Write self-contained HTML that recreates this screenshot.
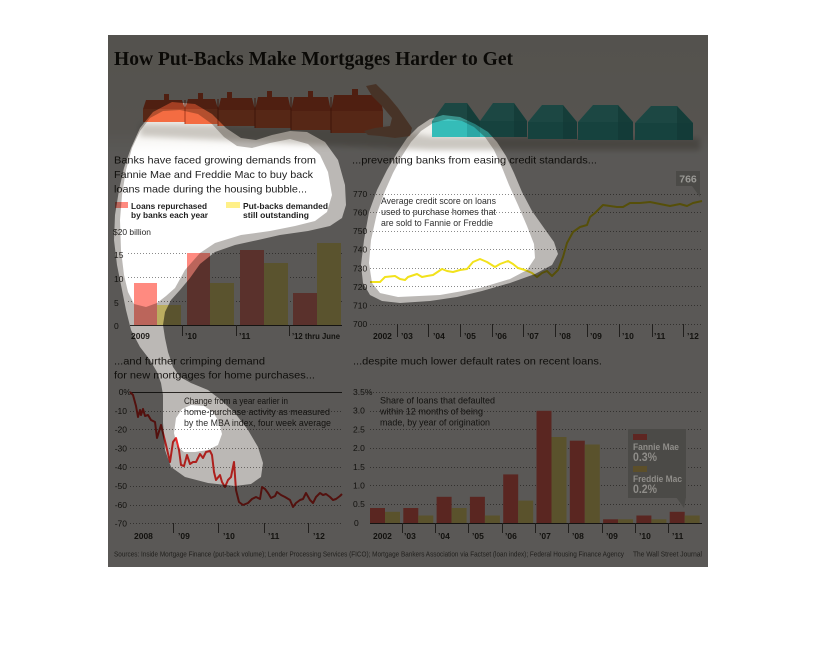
<!DOCTYPE html>
<html><head><meta charset="utf-8">
<style>
html,body{margin:0;padding:0;background:#fff}
svg{display:block}
.t{font-family:"Liberation Sans",sans-serif;fill:#1e1e1e}
.b{font-weight:bold}
.s{font-family:"Liberation Serif",serif;font-weight:bold;fill:#141414}
.ax{font-family:"Liberation Sans",sans-serif;font-size:8.5px;fill:#2a2a2a}
.xl{font-family:"Liberation Sans",sans-serif;font-size:8.5px;font-weight:bold;fill:#2a2a2a}
.an{font-family:"Liberation Sans",sans-serif;font-size:9.5px;fill:#2e2e2e}
.g{stroke:#8a8a8a;stroke-width:1;stroke-dasharray:1 2;fill:none}
.tk{stroke:#555;stroke-width:1}
</style></head><body>
<svg width="816" height="662" viewBox="0 0 816 662" xmlns="http://www.w3.org/2000/svg">
<defs>
<linearGradient id="pg" x1="0" y1="0" x2="0" y2="1">
<stop offset="0" stop-color="#efede8"/>
<stop offset="0.8" stop-color="#f2f0ec"/>
<stop offset="1" stop-color="#ffffff"/>
</linearGradient>
<filter id="bl" x="-10%" y="-50%" width="120%" height="200%"><feGaussianBlur stdDeviation="3"/></filter>
</defs>
<rect width="816" height="662" fill="#fff"/>
<rect x="108" y="35" width="600" height="532" fill="#fff"/>
<!-- photo strip -->
<rect x="108" y="35" width="600" height="118" fill="url(#pg)"/>
<polygon points="140,124 385,128 430,136 700,138 700,150 430,150 140,136" fill="#cbc7c1" filter="url(#bl)"/>
<!-- red houses -->
<g>
<polygon points="143,109 146,100 182,100 185,109" fill="#de5532"/><rect x="143" y="109" width="42" height="13" fill="#f46c42"/><rect x="164" y="94" width="5" height="8" fill="#de5532"/>
<polygon points="185,109 188,99 215,99 218,109" fill="#de5532"/><rect x="185" y="109" width="33" height="15" fill="#f46c42"/><rect x="198" y="93" width="5" height="8" fill="#de5532"/>
<polygon points="218,110 221,98 252,98 255,110" fill="#de5532"/><rect x="218" y="110" width="37" height="16" fill="#f46c42"/><rect x="227" y="92" width="5" height="8" fill="#de5532"/>
<polygon points="255,110 258,97 288,97 291,110" fill="#de5532"/><rect x="255" y="110" width="36" height="18" fill="#f46c42"/><rect x="267" y="91" width="5" height="8" fill="#de5532"/>
<polygon points="291,111 294,97 328,97 331,111" fill="#de5532"/><rect x="291" y="111" width="40" height="19" fill="#f46c42"/><rect x="308" y="91" width="5" height="8" fill="#de5532"/>
<polygon points="331,111 334,95 380,95 383,111" fill="#de5532"/><rect x="331" y="111" width="52" height="22" fill="#f46c42"/><rect x="352" y="89" width="6" height="8" fill="#de5532"/>
<g stroke="#a8381c" stroke-width="1"><line x1="185" y1="100" x2="185" y2="124"/><line x1="218" y1="99" x2="218" y2="126"/><line x1="255" y1="98" x2="255" y2="128"/><line x1="291" y1="97" x2="291" y2="130"/><line x1="331" y1="97" x2="331" y2="133"/></g>
</g>
<!-- hand -->
<polygon points="366,86 376,84 388,96 398,108 405,118 412,128 410,136 395,138 380,136 368,135 364,131 375,128 390,126 392,118 382,106 372,96" fill="#c99072"/>
<!-- teal houses -->
<g>
<rect x="432" y="121" width="48" height="16" fill="#35bcb8"/><polygon points="432,121 445,103 467,103 480,121" fill="#48cac6"/><polygon points="467,103 480,121 480,137 467,137" fill="#259a97" opacity="0.6"/>
<rect x="480" y="121" width="47" height="16" fill="#35bcb8"/><polygon points="480,121 493,103 514,103 527,121" fill="#48cac6"/><polygon points="514,103 527,121 527,137 514,137" fill="#259a97" opacity="0.6"/>
<rect x="528" y="122" width="49" height="17" fill="#35bcb8"/><polygon points="528,122 542,105 563,105 577,122" fill="#48cac6"/><polygon points="563,105 577,122 577,139 563,139" fill="#259a97" opacity="0.6"/>
<rect x="578" y="122" width="55" height="18" fill="#35bcb8"/><polygon points="578,122 593,105 618,105 633,122" fill="#48cac6"/><polygon points="618,105 633,122 633,140 618,140" fill="#259a97" opacity="0.6"/>
<rect x="635" y="123" width="58" height="17" fill="#35bcb8"/><polygon points="635,123 651,106 677,106 693,123" fill="#48cac6"/><polygon points="677,106 693,123 693,140 677,140" fill="#259a97" opacity="0.6"/>
</g>

<!-- Title -->
<text class="s" x="114" y="65" font-size="20" textLength="399" lengthAdjust="spacingAndGlyphs">How Put-Backs Make Mortgages Harder to Get</text>

<!-- ===== Top-left chart ===== -->
<text class="t" x="114" y="163.3" font-size="10.5" textLength="202" lengthAdjust="spacingAndGlyphs">Banks have faced growing demands from</text>
<text class="t" x="114" y="178" font-size="10.5" textLength="199" lengthAdjust="spacingAndGlyphs">Fannie Mae and Freddie Mac to buy back</text>
<text class="t" x="114" y="192.5" font-size="10.5" textLength="193" lengthAdjust="spacingAndGlyphs">loans made during the housing bubble...</text>
<rect x="115" y="202" width="13" height="6" fill="#ff8a80"/>
<text class="t b" x="131" y="209" font-size="8.5" textLength="76" lengthAdjust="spacingAndGlyphs">Loans repurchased</text>
<text class="t b" x="131" y="218" font-size="8.5" textLength="77" lengthAdjust="spacingAndGlyphs">by banks each year</text>
<rect x="226" y="202" width="14" height="6" fill="#fff088"/>
<text class="t b" x="243" y="209" font-size="8.5" textLength="85" lengthAdjust="spacingAndGlyphs">Put-backs demanded</text>
<text class="t b" x="243" y="218" font-size="8.5" textLength="66" lengthAdjust="spacingAndGlyphs">still outstanding</text>
<text class="ax" x="113" y="235" font-size="9" textLength="38" lengthAdjust="spacingAndGlyphs">$20 billion</text>
<line class="g" x1="128" y1="253.5" x2="342" y2="253.5"/>
<line class="g" x1="128" y1="277.5" x2="342" y2="277.5"/>
<line class="g" x1="128" y1="301.5" x2="342" y2="301.5"/>
<text class="ax" x="114" y="258">15</text>
<text class="ax" x="114" y="282">10</text>
<text class="ax" x="114" y="306">5</text>
<text class="ax" x="114" y="329">0</text>
<rect x="134" y="283" width="23" height="42" fill="#ff8a80"/>
<rect x="157" y="305" width="24" height="20" fill="#fff088"/>
<rect x="187" y="253" width="23" height="72" fill="#ff8a80"/>
<rect x="210" y="283" width="24" height="42" fill="#fff088"/>
<rect x="240" y="250" width="24" height="75" fill="#ff8a80"/>
<rect x="264" y="263" width="24" height="62" fill="#fff088"/>
<rect x="293" y="293" width="24" height="32" fill="#ff8a80"/>
<rect x="317" y="243" width="24" height="82" fill="#fff088"/>
<line x1="130" y1="325.5" x2="342" y2="325.5" stroke="#333" stroke-width="1"/>
<line class="tk" x1="182.5" y1="325" x2="182.5" y2="336"/>
<line class="tk" x1="236.5" y1="325" x2="236.5" y2="336"/>
<line class="tk" x1="289.5" y1="325" x2="289.5" y2="336"/>
<text class="xl" x="131" y="339">2009</text>
<text class="xl" x="185" y="339">’10</text>
<text class="xl" x="239" y="339">’11</text>
<text class="xl" x="292" y="339" textLength="48" lengthAdjust="spacingAndGlyphs">’12 thru June</text>

<!-- ===== Top-right chart ===== -->
<text class="t" x="352" y="163.3" font-size="10.5" textLength="245" lengthAdjust="spacingAndGlyphs">...preventing banks from easing credit standards...</text>
<g>
<line class="g" x1="370" y1="194.5" x2="703" y2="194.5"/>
<line class="g" x1="370" y1="212.5" x2="703" y2="212.5"/>
<line class="g" x1="370" y1="231.5" x2="703" y2="231.5"/>
<line class="g" x1="370" y1="249.5" x2="703" y2="249.5"/>
<line class="g" x1="370" y1="268.5" x2="703" y2="268.5"/>
<line class="g" x1="370" y1="286.5" x2="703" y2="286.5"/>
<line class="g" x1="370" y1="305.5" x2="703" y2="305.5"/>
<line class="g" x1="370" y1="324.5" x2="703" y2="324.5"/>
</g>
<text class="ax" x="353" y="197">770</text>
<text class="ax" x="353" y="215.6">760</text>
<text class="ax" x="353" y="234.1">750</text>
<text class="ax" x="353" y="252.7">740</text>
<text class="ax" x="353" y="271.3">730</text>
<text class="ax" x="353" y="289.9">720</text>
<text class="ax" x="353" y="308.4">710</text>
<text class="ax" x="353" y="327">700</text>
<g class="tk">
<line x1="397.5" y1="324" x2="397.5" y2="337"/><line x1="428.5" y1="324" x2="428.5" y2="337"/><line x1="460.5" y1="324" x2="460.5" y2="337"/><line x1="492.5" y1="324" x2="492.5" y2="337"/><line x1="523.5" y1="324" x2="523.5" y2="337"/><line x1="555.5" y1="324" x2="555.5" y2="337"/><line x1="587.5" y1="324" x2="587.5" y2="337"/><line x1="619.5" y1="324" x2="619.5" y2="337"/><line x1="652.5" y1="324" x2="652.5" y2="337"/><line x1="683.5" y1="324" x2="683.5" y2="337"/>
</g>
<text class="xl" x="373" y="339">2002</text>
<text class="xl" x="401" y="339">’03</text>
<text class="xl" x="433" y="339">’04</text>
<text class="xl" x="464" y="339">’05</text>
<text class="xl" x="495" y="339">’06</text>
<text class="xl" x="527" y="339">’07</text>
<text class="xl" x="559" y="339">’08</text>
<text class="xl" x="590" y="339">’09</text>
<text class="xl" x="622" y="339">’10</text>
<text class="xl" x="654" y="339">’11</text>
<text class="xl" x="687" y="339">’12</text>
<text class="an" x="381" y="204" textLength="115" lengthAdjust="spacingAndGlyphs">Average credit score on loans</text>
<text class="an" x="381" y="215" textLength="115" lengthAdjust="spacingAndGlyphs">used to purchase homes that</text>
<text class="an" x="381" y="226" textLength="112" lengthAdjust="spacingAndGlyphs">are sold to Fannie or Freddie</text>
<polyline fill="none" stroke="#f2e21c" stroke-width="2" stroke-linejoin="round" points="370,282 380,282 385,277 395,276 400,279 405,280 408,277 417,274 422,277 427,276 433,275 442,269 447,271 453,272 460,270 467,269 473,262 480,259 487,262 495,267 500,264 508,261 513,264 518,268 525,270 532,273 537,277 542,273 547,271 552,276 558,270 563,257 567,243 573,232 580,227 587,225 590,217 595,213 603,205 610,206 617,207 623,207 630,203 640,203 650,202 660,204 670,206 680,204 687,206 693,203 702,201"/>

<!-- ===== Bottom-left chart ===== -->
<text class="t" x="114" y="364.7" font-size="10.5" textLength="151" lengthAdjust="spacingAndGlyphs">...and further crimping demand</text>
<text class="t" x="114" y="378.5" font-size="10.5" textLength="201" lengthAdjust="spacingAndGlyphs">for new mortgages for home purchases...</text>
<line x1="130" y1="392.5" x2="342" y2="392.5" stroke="#333" stroke-width="1"/>
<line class="g" x1="130" y1="411.5" x2="342" y2="411.5"/>
<line class="g" x1="130" y1="429.5" x2="342" y2="429.5"/>
<line class="g" x1="130" y1="448.5" x2="342" y2="448.5"/>
<line class="g" x1="130" y1="467.5" x2="342" y2="467.5"/>
<line class="g" x1="130" y1="486.5" x2="342" y2="486.5"/>
<line class="g" x1="130" y1="505.5" x2="342" y2="505.5"/>
<line class="g" x1="130" y1="523.5" x2="342" y2="523.5"/>
<text class="ax" x="131" y="395" text-anchor="end">0%</text>
<text class="ax" x="127" y="414" text-anchor="end">-10</text>
<text class="ax" x="127" y="432.6" text-anchor="end">-20</text>
<text class="ax" x="127" y="451.4" text-anchor="end">-30</text>
<text class="ax" x="127" y="470.2" text-anchor="end">-40</text>
<text class="ax" x="127" y="489" text-anchor="end">-50</text>
<text class="ax" x="127" y="507.8" text-anchor="end">-60</text>
<text class="ax" x="127" y="526.6" text-anchor="end">-70</text>
<g class="tk"><line x1="173.5" y1="523" x2="173.5" y2="533"/><line x1="218.5" y1="523" x2="218.5" y2="533"/><line x1="264.5" y1="523" x2="264.5" y2="533"/><line x1="308.5" y1="523" x2="308.5" y2="533"/></g>
<text class="xl" x="134" y="539">2008</text>
<text class="xl" x="178" y="539">’09</text>
<text class="xl" x="223" y="539">’10</text>
<text class="xl" x="268" y="539">’11</text>
<text class="xl" x="313" y="539">’12</text>
<text class="an" x="184" y="404" textLength="104" lengthAdjust="spacingAndGlyphs">Change from a year earlier in</text>
<text class="an" x="184" y="415" textLength="146" lengthAdjust="spacingAndGlyphs">home-purchase activity as measured</text>
<text class="an" x="184" y="426" textLength="147" lengthAdjust="spacingAndGlyphs">by the MBA index, four week average</text>
<polyline fill="none" stroke="#ec2a2a" stroke-width="2" stroke-linejoin="round" points="130,392 133,395 136,406 138,417 140,410 141,415 143,409 145,416 148,415 151,420 155,422 157,438 161,425 163,433 166,445 170,462 173,442 176,438 179,450 181,465 184,466 187,455 190,464 193,462 196,462 200,454 203,458 206,452 210,451 212,455 214,472 216,480 220,475 222,482 225,487 228,480 231,477 234,462 236,490 239,502 243,505 248,503 252,499 256,497 260,499 262,487 265,489 268,493 271,498 275,496 277,492 281,495 285,497 290,500 293,507 296,503 300,500 303,499 306,493 310,500 313,503 316,497 320,493 323,495 326,494 330,497 333,500 336,499 340,496 342,494"/>

<!-- ===== Bottom-right chart ===== -->
<text class="t" x="353" y="364.7" font-size="10.5" textLength="249" lengthAdjust="spacingAndGlyphs">...despite much lower default rates on recent loans.</text>
<line class="g" x1="370" y1="392.5" x2="702" y2="392.5"/>
<line class="g" x1="370" y1="411.5" x2="702" y2="411.5"/>
<line class="g" x1="370" y1="429.5" x2="702" y2="429.5"/>
<line class="g" x1="370" y1="448.5" x2="702" y2="448.5"/>
<line class="g" x1="370" y1="467.5" x2="702" y2="467.5"/>
<line class="g" x1="370" y1="485.5" x2="702" y2="485.5"/>
<line class="g" x1="370" y1="504.5" x2="702" y2="504.5"/>
<text class="ax" x="353" y="395">3.5%</text>
<text class="ax" x="353" y="413.7">3.0</text>
<text class="ax" x="353" y="432.4">2.5</text>
<text class="ax" x="353" y="451.1">2.0</text>
<text class="ax" x="353" y="469.8">1.5</text>
<text class="ax" x="353" y="488.5">1.0</text>
<text class="ax" x="353" y="507.2">0.5</text>
<text class="ax" x="354" y="526">0</text>
<text class="an" x="380" y="403.5" textLength="115" lengthAdjust="spacingAndGlyphs">Share of loans that defaulted</text>
<text class="an" x="380" y="414.5" textLength="103" lengthAdjust="spacingAndGlyphs">within 12 months of being</text>
<text class="an" x="380" y="425.5" textLength="110" lengthAdjust="spacingAndGlyphs">made, by year of origination</text>
<g fill="#ff6a62">
<rect x="370" y="508" width="15" height="15"/>
<rect x="403.3" y="508" width="15" height="15"/>
<rect x="436.6" y="496.8" width="15" height="26.2"/>
<rect x="469.9" y="496.8" width="15" height="26.2"/>
<rect x="503.2" y="474.4" width="15" height="48.6"/>
<rect x="536.5" y="410.8" width="15" height="112.2"/>
<rect x="569.8" y="440.7" width="15" height="82.3"/>
<rect x="603.1" y="519.3" width="15" height="3.7"/>
<rect x="636.4" y="515.5" width="15" height="7.5"/>
<rect x="669.7" y="511.8" width="15" height="11.2"/>
</g>
<g fill="#ffec80">
<rect x="385" y="511.8" width="15" height="11.2"/>
<rect x="418.3" y="515.5" width="15" height="7.5"/>
<rect x="451.6" y="508" width="15" height="15"/>
<rect x="484.9" y="515.5" width="15" height="7.5"/>
<rect x="518.2" y="500.6" width="15" height="22.4"/>
<rect x="551.5" y="437" width="15" height="86"/>
<rect x="584.8" y="444.5" width="15" height="78.5"/>
<rect x="618.1" y="519.3" width="15" height="3.7"/>
<rect x="651.4" y="519.3" width="15" height="3.7"/>
<rect x="684.7" y="515.5" width="15" height="7.5"/>
</g>
<line x1="370" y1="523.5" x2="702" y2="523.5" stroke="#333" stroke-width="1"/>
<g class="tk"><line x1="402.5" y1="523" x2="402.5" y2="533"/><line x1="435.5" y1="523" x2="435.5" y2="533"/><line x1="468.5" y1="523" x2="468.5" y2="533"/><line x1="502.5" y1="523" x2="502.5" y2="533"/><line x1="535.5" y1="523" x2="535.5" y2="533"/><line x1="568.5" y1="523" x2="568.5" y2="533"/><line x1="602.5" y1="523" x2="602.5" y2="533"/><line x1="635.5" y1="523" x2="635.5" y2="533"/><line x1="668.5" y1="523" x2="668.5" y2="533"/></g>
<text class="xl" x="373" y="539">2002</text>
<text class="xl" x="404" y="539">’03</text>
<text class="xl" x="438" y="539">’04</text>
<text class="xl" x="472" y="539">’05</text>
<text class="xl" x="505" y="539">’06</text>
<text class="xl" x="539" y="539">’07</text>
<text class="xl" x="572" y="539">’08</text>
<text class="xl" x="606" y="539">’09</text>
<text class="xl" x="639" y="539">’10</text>
<text class="xl" x="672" y="539">’11</text>

<!-- sources -->
<text class="t" x="114" y="556.5" font-size="7" fill="#555" style="fill:#555" textLength="510" lengthAdjust="spacingAndGlyphs">Sources: Inside Mortgage Finance (put-back volume); Lender Processing Services (FICO); Mortgage Bankers Association via Factset (loan index); Federal Housing Finance Agency</text>
<text class="t" x="633" y="556.5" font-size="7" style="fill:#555" textLength="69" lengthAdjust="spacingAndGlyphs">The Wall Street Journal</text>

<!-- ===== Overlay with spotlight ===== -->
<path fill="rgb(20,10,0)" fill-opacity="0.29" fill-rule="evenodd" d="M108,35H708V567H108Z
M163,111L180,110L198,114L212,124L224,137L237,146L252,148L270,143L290,139L308,144L320,155L328,172L332,195L327,212L315,221L295,226L270,231L241,235L215,243L200,253L185,270L175,288L166,296L157,303L146,307L134,304L128,292L124,275L121,250L120,220L122,195L126,170L132,148L140,131L150,118Z
M191,405L204,406L213,412L219,422L222,434L218,445L208,450L195,452L184,452L177,446L174,433L176,418L182,409Z
M448,119L462,121L474,127L485,137L494,150L501,165L509,185L518,205L527,226L534,244L535,258L527,270L510,279L480,288L440,295L398,297L380,293L372,283L369,263L371,240L377,213L385,191L393,173L402,156L411,142L421,131L433,123Z"/>
<path fill="rgb(4,4,2)" fill-opacity="0.528" fill-rule="evenodd" d="M108,35H708V567H108Z
M172,102L195,104L212,114L226,128L241,138L256,140L272,135L290,131L307,132L325,142L338,160L345,185L346,205L342,218L330,226L308,231L280,235L258,240L235,245L215,252L200,264L190,278L180,290L171,300L165,312L163,325L165,338L168,352L173,367L180,377L191,383L208,390L221,400L235,413L248,430L258,447L263,463L261,477L251,484L235,486L208,483L185,477L171,467L165,450L163,423L163,395L161,383L157,372L150,360L140,347L131,330L126,310L122,290L117,265L114,240L115,215L119,190L124,168L131,148L140,128L153,112Z
M443,115L460,117L475,124L488,132L497,142L506,156L514,173L522,192L532,211L544,228L554,242L558,254L552,265L535,274L510,283L482,291L457,297L430,301L400,303L382,301L370,295L363,283L361,265L364,240L369,212L377,190L387,170L397,153L407,138L418,127L430,119Z"/>

<!-- tooltip boxes (on top) -->
<rect x="676" y="171" width="24" height="15" fill="#4b4a47"/>
<polygon points="692,186 700,186 700,197" fill="#4b4a47"/>
<text x="688" y="182.5" text-anchor="middle" font-family="Liberation Sans, sans-serif" font-size="10.5" font-weight="bold" fill="#9a9995">766</text>

<rect x="628" y="429" width="58" height="69" fill="#4b4a47"/>
<polygon points="676,497 686,497 684,508" fill="#4b4a47"/>
<rect x="633" y="434" width="14" height="6" fill="#5e2622"/>
<text x="633" y="450" font-family="Liberation Sans, sans-serif" font-size="9" font-weight="bold" fill="#8f8d89" textLength="46" lengthAdjust="spacingAndGlyphs">Fannie Mae</text>
<text x="633" y="461" font-family="Liberation Sans, sans-serif" font-size="11.5" font-weight="bold" fill="#8f8d89" textLength="24" lengthAdjust="spacingAndGlyphs">0.3%</text>
<rect x="633" y="466" width="14" height="6" fill="#5c4f2a"/>
<text x="633" y="482" font-family="Liberation Sans, sans-serif" font-size="9" font-weight="bold" fill="#8f8d89" textLength="49" lengthAdjust="spacingAndGlyphs">Freddie Mac</text>
<text x="633" y="493" font-family="Liberation Sans, sans-serif" font-size="11.5" font-weight="bold" fill="#8f8d89" textLength="24" lengthAdjust="spacingAndGlyphs">0.2%</text>
</svg>
</body></html>
